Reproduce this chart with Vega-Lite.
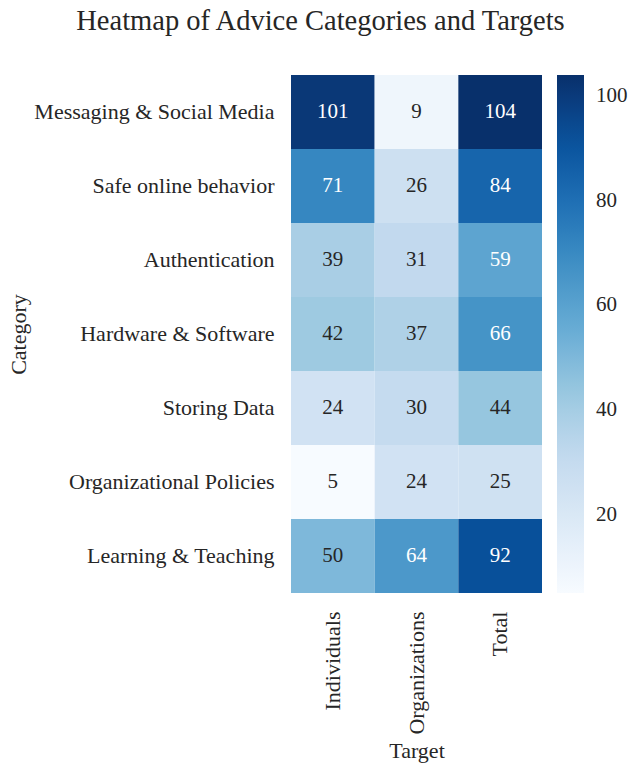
{
  "$schema": "https://vega.github.io/schema/vega-lite/v6.json",
  "width": 251,
  "height": 518,
  "autosize": {"type": "none"},
  "padding": {"left": 291, "top": 75, "right": 89, "bottom": 172},
  "background": "white",
  "title": {
    "text": "Heatmap of Advice Categories and Targets",
    "font": "Liberation Serif",
    "fontSize": 28.5,
    "fontWeight": "normal",
    "color": "#262626",
    "anchor": "middle",
    "dx": -96,
    "offset": 40
  },
  "data": {
    "values": [
      {"Category": "Messaging & Social Media", "Target": "Individuals", "Count": 101},
      {"Category": "Messaging & Social Media", "Target": "Organizations", "Count": 9},
      {"Category": "Messaging & Social Media", "Target": "Total", "Count": 104},
      {"Category": "Safe online behavior", "Target": "Individuals", "Count": 71},
      {"Category": "Safe online behavior", "Target": "Organizations", "Count": 26},
      {"Category": "Safe online behavior", "Target": "Total", "Count": 84},
      {"Category": "Authentication", "Target": "Individuals", "Count": 39},
      {"Category": "Authentication", "Target": "Organizations", "Count": 31},
      {"Category": "Authentication", "Target": "Total", "Count": 59},
      {"Category": "Hardware & Software", "Target": "Individuals", "Count": 42},
      {"Category": "Hardware & Software", "Target": "Organizations", "Count": 37},
      {"Category": "Hardware & Software", "Target": "Total", "Count": 66},
      {"Category": "Storing Data", "Target": "Individuals", "Count": 24},
      {"Category": "Storing Data", "Target": "Organizations", "Count": 30},
      {"Category": "Storing Data", "Target": "Total", "Count": 44},
      {"Category": "Organizational Policies", "Target": "Individuals", "Count": 5},
      {"Category": "Organizational Policies", "Target": "Organizations", "Count": 24},
      {"Category": "Organizational Policies", "Target": "Total", "Count": 25},
      {"Category": "Learning & Teaching", "Target": "Individuals", "Count": 50},
      {"Category": "Learning & Teaching", "Target": "Organizations", "Count": 64},
      {"Category": "Learning & Teaching", "Target": "Total", "Count": 92}
    ]
  },
  "encoding": {
    "x": {
      "field": "Target",
      "type": "nominal",
      "sort": null,
      "scale": {"paddingInner": 0, "paddingOuter": 0},
      "axis": {
        "title": "Target",
        "labelAngle": -90,
        "domain": false,
        "ticks": false,
        "labelPadding": 18,
        "labelLimit": 0,
        "titlePadding": 6,
        "labelFont": "Liberation Serif",
        "labelFontSize": 22,
        "labelColor": "#262626",
        "titleFont": "Liberation Serif",
        "titleFontSize": 22,
        "titleFontWeight": "normal",
        "titleColor": "#262626"
      }
    },
    "y": {
      "field": "Category",
      "type": "nominal",
      "sort": null,
      "scale": {"paddingInner": 0, "paddingOuter": 0},
      "axis": {
        "title": "Category",
        "domain": false,
        "ticks": false,
        "labelPadding": 17,
        "labelLimit": 0,
        "titleX": -273,
        "titleY": 259,
        "titleAngle": -90,
        "titleAlign": "center",
        "titleBaseline": "middle",
        "labelFont": "Liberation Serif",
        "labelFontSize": 22,
        "labelColor": "#262626",
        "titleFont": "Liberation Serif",
        "titleFontSize": 22,
        "titleFontWeight": "normal",
        "titleColor": "#262626"
      }
    }
  },
  "layer": [
    {
      "mark": {"type": "rect"},
      "encoding": {
        "color": {
          "field": "Count",
          "type": "quantitative",
          "scale": {
            "domain": [5, 104],
            "range": ["#f7fbff", "#deebf7", "#c6dbef", "#9ecae1", "#6baed6", "#4292c6", "#2171b5", "#08519c", "#08306b"]
          },
          "legend": {
            "title": null,
            "orient": "right",
            "direction": "vertical",
            "gradientLength": 518,
            "gradientThickness": 27,
            "gradientStrokeWidth": 0,
            "offset": 15,
            "padding": 0,
            "values": [20, 40, 60, 80, 100],
            "labelFont": "Liberation Serif",
            "labelFontSize": 21,
            "labelColor": "#262626",
            "labelOffset": 12,
            "labelOverlap": false
          }
        }
      }
    },
    {
      "mark": {"type": "text", "font": "Liberation Serif", "fontSize": 21, "baseline": "middle"},
      "encoding": {
        "text": {"field": "Count", "type": "quantitative"},
        "color": {
          "condition": {"test": "datum.Count > 55", "value": "white"},
          "value": "#262626"
        }
      }
    }
  ],
  "config": {"view": {"stroke": null}}
}
